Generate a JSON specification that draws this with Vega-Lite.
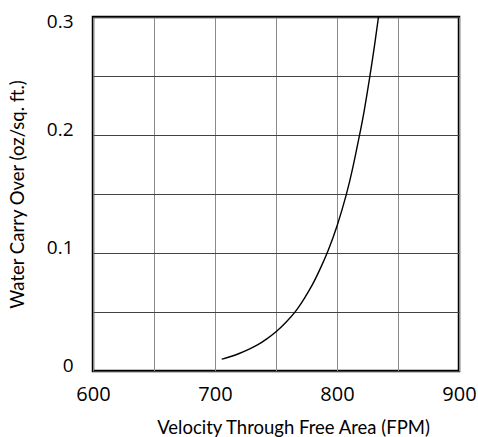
{
  "$schema": "https://vega.github.io/schema/vega-lite/v6.json",
  "autosize": "none",
  "width": 366,
  "height": 354,
  "padding": {"left": 93, "top": 17, "right": 19, "bottom": 66},
  "background": "white",
  "config": {
    "view": {"stroke": "black", "strokeWidth": 2.5},
    "axis": {"domain": false, "ticks": false}
  },
  "data": {
    "values": [
      {"v": 705.5, "w": 0.010},
      {"v": 712, "w": 0.0119},
      {"v": 720, "w": 0.0148},
      {"v": 727, "w": 0.018},
      {"v": 735, "w": 0.022},
      {"v": 742, "w": 0.0268},
      {"v": 750, "w": 0.033},
      {"v": 758, "w": 0.041},
      {"v": 766, "w": 0.050},
      {"v": 773, "w": 0.061},
      {"v": 780, "w": 0.073},
      {"v": 786, "w": 0.086},
      {"v": 792.5, "w": 0.101},
      {"v": 800, "w": 0.122},
      {"v": 808, "w": 0.150},
      {"v": 813, "w": 0.172},
      {"v": 818.5, "w": 0.200},
      {"v": 822, "w": 0.218},
      {"v": 827, "w": 0.250},
      {"v": 830, "w": 0.270},
      {"v": 834, "w": 0.300}
    ]
  },
  "mark": {"type": "line", "color": "black", "strokeWidth": 1.4, "interpolate": "basis", "clip": true},
  "encoding": {
    "x": {
      "field": "v",
      "type": "quantitative",
      "scale": {"domain": [600, 900], "nice": false, "zero": false},
      "axis": {
        "title": "Velocity Through Free Area (FPM)",
        "values": [600, 650, 700, 750, 800, 850, 900],
        "labelExpr": "datum.value % 100 == 0 ? datum.label : ''",
        "labelFlush": false,
        "labelOverlap": false,
        "gridColor": "#8a8a8a",
        "gridWidth": 1,
        "gridOpacity": 1,
        "labelFont": "Open Sans",
        "labelFontSize": 20,
        "labelColor": "black",
        "labelPadding": 13,
        "labelBaseline": "top",
        "titleFont": "Lato",
        "titleFontWeight": "normal",
        "titleFontSize": 18.5,
        "titleColor": "black",
        "titleX": 200,
        "titleY": 47,
        "titleBaseline": "top",
        "titleAlign": "center"
      }
    },
    "y": {
      "field": "w",
      "type": "quantitative",
      "scale": {"domain": [0, 0.3], "nice": false},
      "axis": {
        "title": "Water Carry Over (oz/sq. ft.)",
        "values": [0, 0.05, 0.1, 0.15, 0.2, 0.25, 0.3],
        "labelExpr": "datum.value == 0 ? '0' : (abs(datum.value * 10 - round(datum.value * 10)) < 0.001 ? format(datum.value, '.1f') : '')",
        "labelOverlap": false,
        "labelFlush": false,
        "gridColor": "#444444",
        "gridWidth": 1,
        "gridOpacity": 1,
        "labelFont": "Open Sans",
        "labelFontSize": 19,
        "labelColor": "black",
        "labelPadding": 20,
        "labelOffset": {"condition": {"test": "datum.value == 0.3", "value": 4}, "value": -6},
        "titleFont": "Lato",
        "titleFontWeight": "normal",
        "titleFontSize": 18.5,
        "titleColor": "black",
        "titleX": -76,
        "titleY": 177,
        "titleAngle": -90,
        "titleAlign": "center",
        "titleBaseline": "middle"
      }
    }
  }
}
